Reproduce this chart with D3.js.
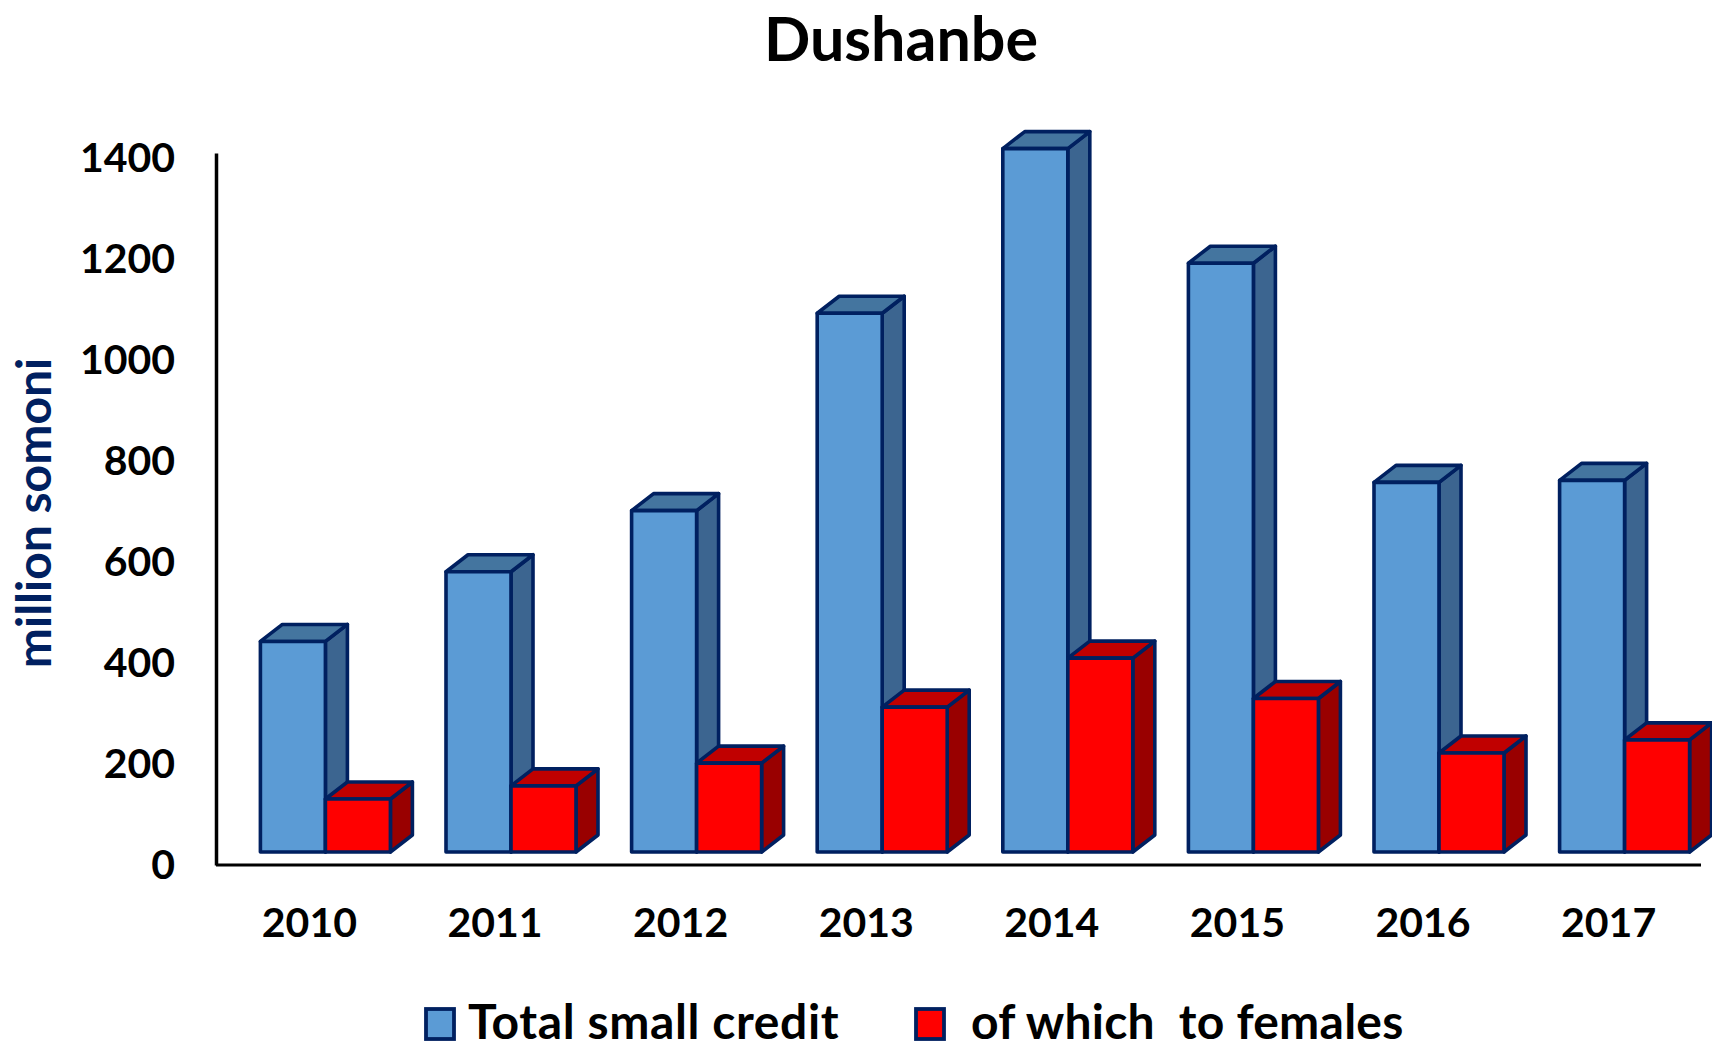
<!DOCTYPE html>
<html>
<head>
<meta charset="utf-8">
<script src="https://d3js.org/d3.v7.min.js"></script>
<style>
  html, body { margin: 0; padding: 0; background: #fff; }
  svg { display: block; }
  text { font-family: Lato, sans-serif; font-weight: 700; fill: #000; }
</style>
</head>
<body>
<div id="chart"></div>
<script>
// Values
const years = ["2010", "2011", "2012", "2013", "2014", "2015", "2016", "2017"];
const totalCredit = [417, 555, 676, 1067, 1393, 1166, 732, 736];
const toFemales = [105, 131, 176, 287, 384, 304, 196, 222];
const yTicks = [0, 200, 400, 600, 800, 1000, 1200, 1400];

const width = 1712, height = 1043;

// Depth of the fake 3D boxes
const depthX = 22, depthY = 17, floorY = 13;

const colors = {
    total: { front: "#5B9BD5", top: "#44759F", side: "#3C6590" },
    females: { front: "#FF0000", top: "#C00000", side: "#990000" }
};
const edge = "#002060";

const svg = d3.select("#chart")
    .append("svg")
        .attr("width", width)
        .attr("height", height);

const x = d3.scaleBand()
    .domain(years)
    .range([232.6, 1717.4]);

const y = d3.scaleLinear()
    .domain([0, 1410])
    .range([865, 153]);

const barWidth = 65;

// One box: front face, top and side
function drawBox(g, x0, value, c) {
    const bottom = y(0) - floorY;
    const top = y(value) - floorY;
    const x1 = x0 + barWidth;
    const poly = (pts, fill) => g.append("polygon")
        .attr("points", pts.map(p => p.join(",")).join(" "))
        .attr("fill", fill)
        .attr("stroke", edge)
        .attr("stroke-width", 3.6)
        .attr("stroke-linejoin", "round");
    poly([[x1, top], [x1 + depthX, top - depthY], [x1 + depthX, bottom - depthY], [x1, bottom]], c.side);
    poly([[x0, top], [x0 + depthX, top - depthY], [x1 + depthX, top - depthY], [x1, top]], c.top);
    poly([[x0, top], [x1, top], [x1, bottom], [x0, bottom]], c.front);
}

const bars = svg.append("g").attr("class", "bars");
years.forEach((yr, i) => {
    const center = x(yr) + x.bandwidth() / 2;
    const g = bars.append("g");
    drawBox(g, center - barWidth, totalCredit[i], colors.total);
    drawBox(g, center, toFemales[i], colors.females);
});

// Axes
const yAxis = svg.append("g")
    .attr("transform", "translate(216,0)")
    .call(d3.axisLeft(y).tickValues(yTicks).tickSize(0).tickPadding(41).tickFormat(d3.format("d")));

const xAxis = svg.append("g")
    .attr("transform", "translate(-16,865)")
    .call(d3.axisBottom(x).tickSize(0).tickPadding(43));

svg.append("line")
    .attr("x1", 216).attr("x2", 1701)
    .attr("y1", 865).attr("y2", 865)
    .attr("stroke", "#000").attr("stroke-width", 3);

xAxis.select(".domain").remove();
yAxis.select(".domain").attr("stroke", "#000").attr("stroke-width", 3.5);
svg.selectAll(".tick text").style("font-size", "41px").attr("fill", "#000")
    .style("font-family", "Lato, sans-serif");

// Title
svg.append("text")
    .attr("x", 901)
    .attr("y", 60.5)
    .attr("text-anchor", "middle")
    .style("font-size", "61px")
    .text("Dushanbe");

// Y axis label
svg.append("text")
    .attr("transform", "translate(51,513) rotate(-90)")
    .attr("text-anchor", "middle")
    .style("font-size", "48px")
    .style("fill", "#002060")
    .style("font-weight", 700)
    .text("million somoni");

// Legend
const legendItems = [
    { label: "Total small credit", c: colors.total.front, boxX: 426, textX: 468, spacing: 0.6 },
    { label: "of which  to females", c: colors.females.front, boxX: 916, textX: 971, spacing: 0.25 }
];
const legend = svg.append("g");
legendItems.forEach(d => {
    legend.append("rect")
        .attr("x", d.boxX).attr("y", 1009)
        .attr("width", 28).attr("height", 30)
        .attr("fill", d.c)
        .attr("stroke", edge)
        .attr("stroke-width", 3.8);
    legend.append("text")
        .attr("x", d.textX).attr("y", 1039)
        .style("font-size", "48px")
        .style("white-space", "pre")
        .style("letter-spacing", d.spacing + "px")
        .text(d.label);
});
</script>
</body>
</html>
